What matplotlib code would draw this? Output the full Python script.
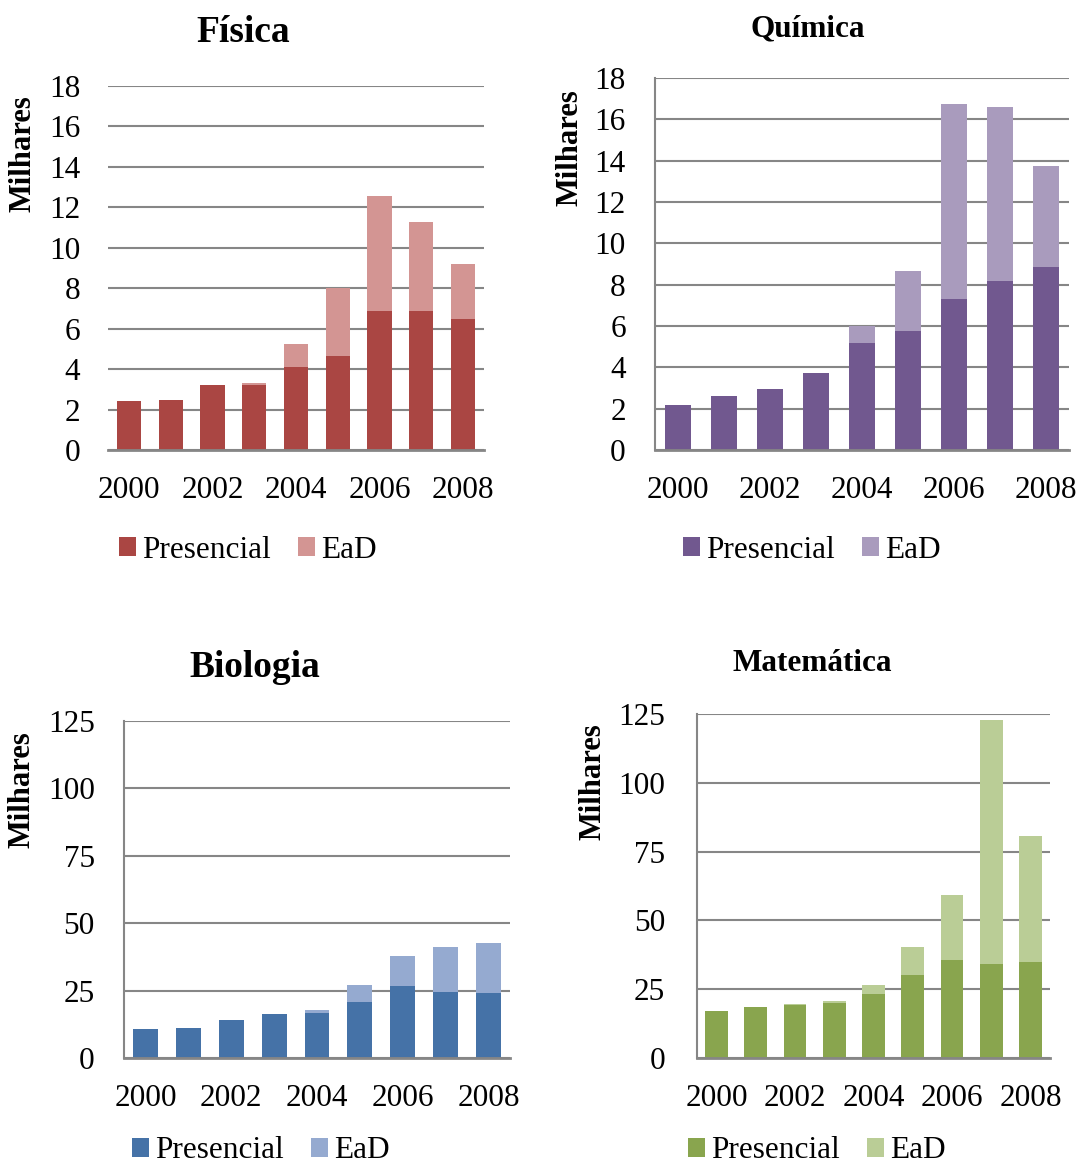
import matplotlib.pyplot as plt
from matplotlib.ticker import MultipleLocator

plt.rcParams["font.family"] = ["Liberation Serif", "DejaVu Serif"]

W, H = 1079, 1166

anos = ["2000", "2001", "2002", "2003", "2004", "2005", "2006", "2007", "2008"]

# milhares de matrículas (presencial / total com EaD)
fisica_pres = [2.4, 2.45, 3.2, 3.2, 4.1, 4.65, 6.87, 6.87, 6.48]
fisica_total = [2.4, 2.45, 3.2, 3.3, 5.25, 8.02, 12.55, 11.25, 9.2]

quimica_pres = [2.18, 2.61, 2.94, 3.74, 5.19, 5.76, 7.32, 8.19, 8.87]
quimica_total = [2.18, 2.61, 2.94, 3.74, 6.0, 8.66, 16.76, 16.61, 13.74]

biologia_pres = [10.7, 11.2, 14.1, 16.2, 16.6, 20.7, 26.6, 24.5, 24.0]
biologia_total = [10.7, 11.2, 14.1, 16.2, 17.8, 26.9, 37.8, 41.0, 42.8]

matematica_pres = [17.1, 18.5, 19.2, 19.9, 23.2, 30.0, 35.5, 34.3, 35.0]
matematica_total = [17.1, 18.5, 19.8, 20.6, 26.4, 40.2, 59.4, 122.8, 80.7]

fig = plt.figure(figsize=(W / 100, H / 100), dpi=100)


def px_axes(left, top, right, bottom):
    return fig.add_axes([left / W, 1 - bottom / H, (right - left) / W, (bottom - top) / H])


def painel(box, pres, total, cores, ymax, ystep, titulo, tsize, tpos, ylab_pos,
           leg_pos, left_spine=True, ypad=20, xpad=19):
    ax = px_axes(*box)
    ead = [t - p for t, p in zip(total, pres)]
    x = range(len(anos))
    ax.bar(x, pres, width=0.58, color=cores[0], label="Presencial", zorder=2)
    ax.bar(x, ead, bottom=pres, width=0.58, color=cores[1], label="EaD", zorder=2)
    ax.set_xlim(-0.5, len(anos) - 0.5)
    ax.set_ylim(0, ymax)
    ax.yaxis.set_major_locator(MultipleLocator(ystep))
    ax.set_xticks(list(x)[::2])
    ax.set_xticklabels(anos[::2])
    ax.yaxis.grid(True, color="#868686", lw=1.5)
    ax.set_axisbelow(True)
    for s in ("top", "right"):
        ax.spines[s].set_visible(False)
    ax.spines["left"].set_visible(left_spine)
    ax.spines["left"].set_color("#868686")
    ax.spines["left"].set_linewidth(1.5)
    ax.spines["bottom"].set_color("#868686")
    ax.spines["bottom"].set_linewidth(2)
    ax.tick_params(axis="y", length=0, pad=ypad, labelsize=22.5)
    ax.tick_params(axis="x", length=0, pad=xpad, labelsize=22.5)

    fig.text(tpos[0] / W, 1 - tpos[1] / H, titulo, ha="center", va="baseline",
             fontsize=tsize, fontweight="bold")
    fig.text(ylab_pos[0] / W, 1 - ylab_pos[1] / H, "Milhares", rotation=90,
             ha="center", va="center", fontsize=22, fontweight="bold")
    ax.legend(loc="center left", bbox_to_anchor=(leg_pos[0] / W, 1 - leg_pos[1] / H),
              bbox_transform=fig.transFigure, ncol=2, frameon=False, fontsize=22.5,
              handlelength=0.55, handleheight=0.55, handletextpad=0.2,
              columnspacing=0.85, borderpad=0, borderaxespad=0)
    return ax


painel((108, 86, 484, 450), fisica_pres, fisica_total, ("#AA4643", "#D39593"),
       18, 2, "Física", 27, (243, 42), (23, 154), (119, 550), left_spine=False)
painel((655, 78, 1069, 450), quimica_pres, quimica_total, ("#71588F", "#A99BBD"),
       18, 2, "Química", 22.5, (808, 36), (570, 148), (683, 550), ypad=21)
painel((124, 721, 510, 1058), biologia_pres, biologia_total, ("#4572A7", "#95AAD0"),
       125, 25, "Biologia", 27, (255, 677), (22, 790), (132, 1151), ypad=21)
painel((697, 714, 1050, 1058), matematica_pres, matematica_total, ("#89A54E", "#BACD96"),
       125, 25, "Matemática", 22.5, (812, 671), (593, 782), (688, 1151), ypad=23)

fig.savefig("out.png", dpi=100)
